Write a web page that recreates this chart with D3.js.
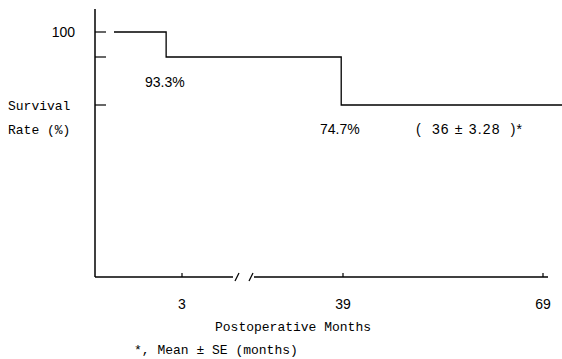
<!DOCTYPE html>
<html>
<head>
<meta charset="UTF-8">
<script src="https://d3js.org/d3.v7.min.js"></script>
<style>
  body { margin: 0; background: #fff; }
  svg text { fill: #000; }
  .mono { font-family: "Liberation Mono", "DejaVu Sans Mono", monospace; font-size: 13px; }
  .num { font-family: "Liberation Sans", sans-serif; font-size: 14px; }
</style>
</head>
<body>
<div id="chart"></div>
<script>
// survival curve (months, survival %)
const stepMonths = [0, 2.3, 38.6, 72];
const stepRates  = [100, 93.3, 74.7, 74.7];
const yTicks = [100, 93.3, 74.7];
const xTicks = [3, 39, 69];
const rateLabels = ["93.3%", "74.7%"];
const meanLabel = "(\u00a0\u00a036\u00a0\u00b1\u00a03.28\u00a0\u00a0)*";

const width = 562, height = 359;
const svg = d3.select("#chart").append("svg")
  .attr("width", width).attr("height", height);

// axis is not to scale in the original figure -> piecewise scales
const x = d3.scaleLinear().domain([0, 3, 39, 69, 72]).range([114, 182, 343, 543, 562]);
const y = d3.scaleLinear().domain([0, 74.7, 93.3, 100]).range([277, 105, 57, 32]);

const axisX = 95, axisY = 277;

// y axis line
svg.append("line").attr("x1", axisX).attr("x2", axisX).attr("y1", 9).attr("y2", axisY)
  .attr("stroke", "#000").attr("stroke-width", 1.5);
svg.selectAll(".ytick").data(yTicks).enter().append("line")
  .attr("x1", axisX).attr("x2", axisX + 11)
  .attr("y1", d => y(d)).attr("y2", d => y(d))
  .attr("stroke", "#000").attr("stroke-width", 1.2);

// x axis with break
svg.append("line").attr("x1", axisX).attr("x2", 233).attr("y1", axisY).attr("y2", axisY)
  .attr("stroke", "#000").attr("stroke-width", 1.5);
svg.append("line").attr("x1", 254).attr("x2", 548).attr("y1", axisY).attr("y2", axisY)
  .attr("stroke", "#000").attr("stroke-width", 1.5);
[237, 251].forEach(bx => {
  svg.append("line").attr("x1", bx - 2).attr("x2", bx + 2)
    .attr("y1", axisY + 4).attr("y2", axisY - 4)
    .attr("stroke", "#000").attr("stroke-width", 1.2);
});
svg.selectAll(".xtick").data(xTicks).enter().append("line")
  .attr("x1", d => x(d)).attr("x2", d => x(d))
  .attr("y1", axisY).attr("y2", axisY - 4)
  .attr("stroke", "#000").attr("stroke-width", 1.2);
svg.selectAll(".xlab").data(xTicks).enter().append("text")
  .attr("class", "num").attr("text-anchor", "middle")
  .attr("x", d => x(d)).attr("y", 309).text(d => d);

// step curve
const pts = stepMonths.map((m, i) => [m, stepRates[i]]);
const line = d3.line().x(d => x(d[0])).y(d => y(d[1])).curve(d3.curveStepAfter);
svg.append("path").datum(pts).attr("d", line)
  .attr("fill", "none").attr("stroke", "#000").attr("stroke-width", 1.3);

// labels
svg.append("text").attr("class", "num").attr("text-anchor", "end")
  .attr("x", 75).attr("y", 37).text("100");
svg.append("text").attr("class", "mono").attr("x", 8).attr("y", 110).text("Survival");
svg.append("text").attr("class", "mono").attr("x", 8).attr("y", 134).text("Rate (%)");

svg.append("text").attr("class", "num").attr("x", 145).attr("y", 87).text(rateLabels[0]);
svg.append("text").attr("class", "num").attr("x", 320).attr("y", 134).text(rateLabels[1]);
svg.append("text").attr("class", "num").attr("x", 416).attr("y", 134)
  .attr("textLength", 106).text(meanLabel);

svg.append("text").attr("class", "mono").attr("x", 215).attr("y", 331).text("Postoperative Months");
svg.append("text").attr("class", "mono").attr("x", 134).attr("y", 354).text("*, Mean \u00b1 SE (months)");
</script>
</body>
</html>
